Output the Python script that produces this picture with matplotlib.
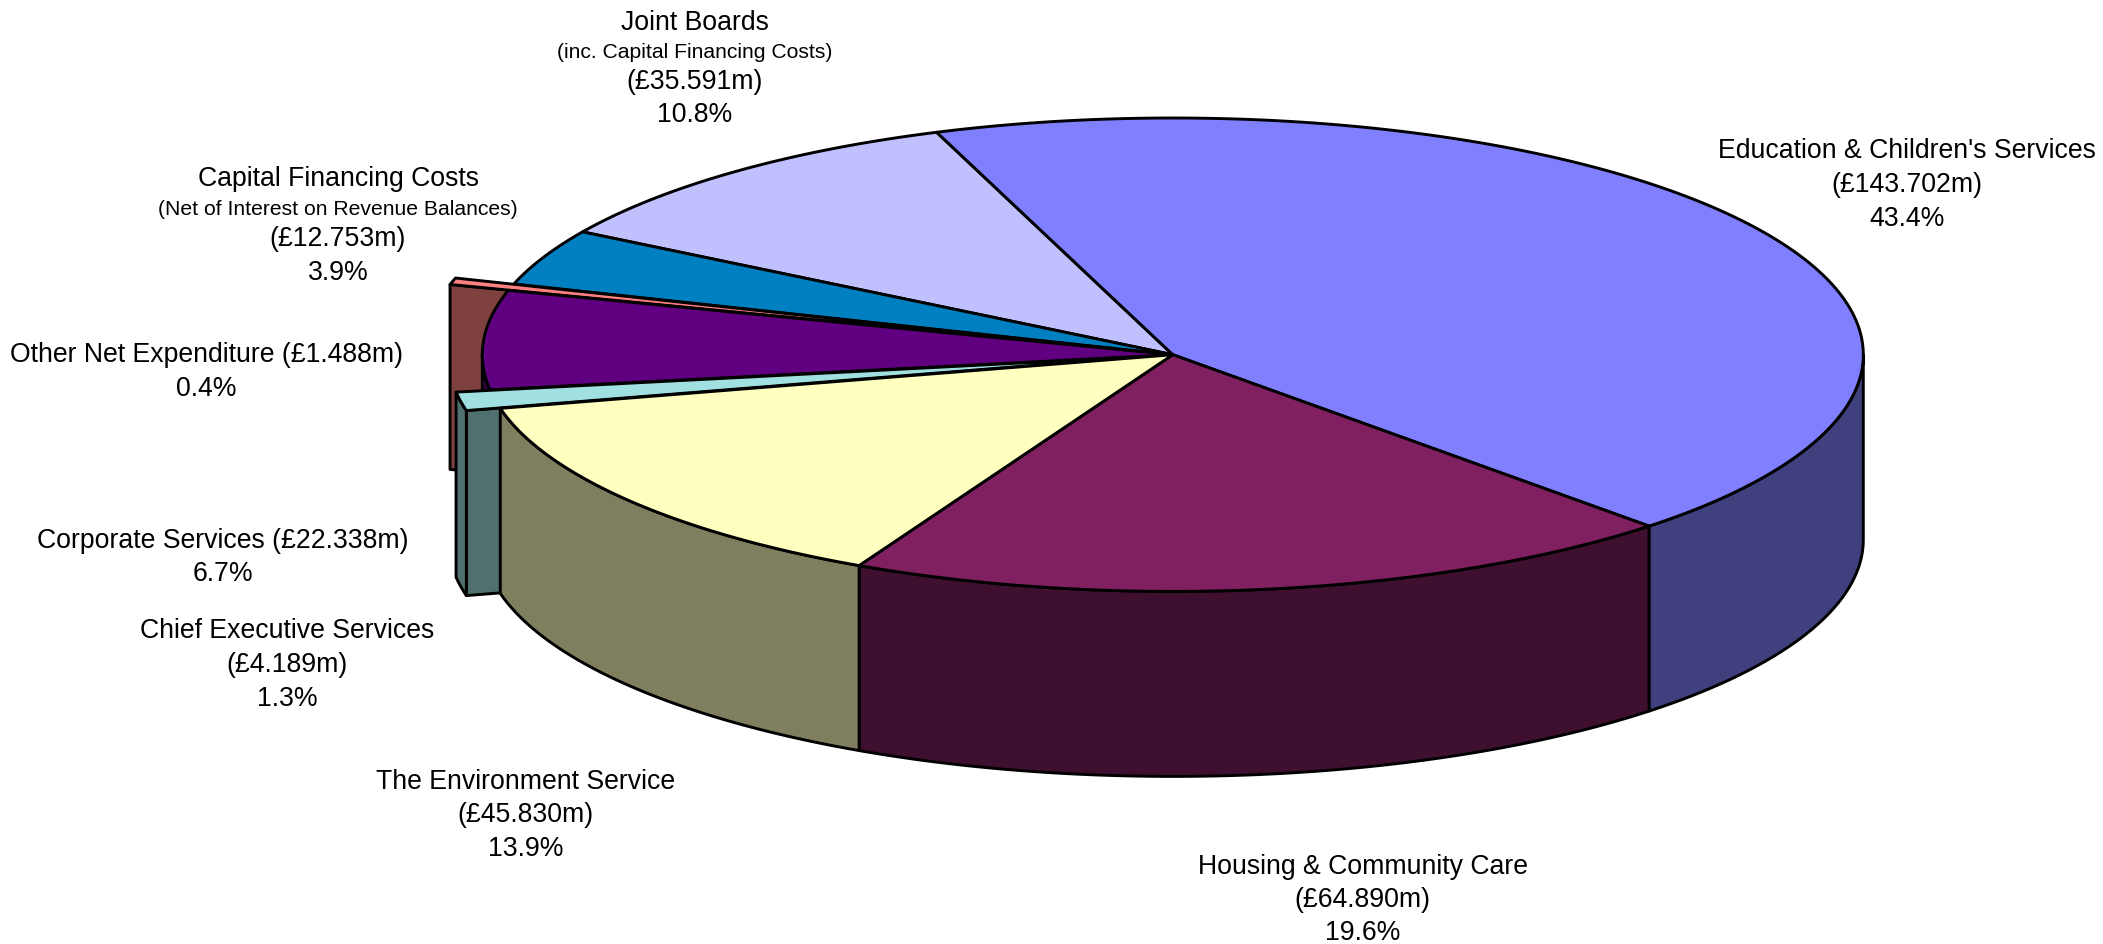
import matplotlib
matplotlib.use("Agg")
import matplotlib.pyplot as plt
import numpy as np

plt.rcParams["font.family"] = ["Liberation Sans", "DejaVu Sans"]

# Net expenditure by service, GBP millions, in drawing order round the pie
services = ["Education", "Housing", "Environment", "Chief Executive",
            "Corporate", "Other", "Capital", "Joint Boards"]
amounts = [143.702, 64.890, 45.830, 4.189, 22.338, 1.488, 12.753, 35.591]
explode = [0, 0, 0, 0.05, 0, 0.088, 0, 0]

top_colors = ["#8080FF", "#802060", "#FFFFC0", "#A0E0E0",
              "#600080", "#FF8080", "#0080C0", "#C0C0FF"]
side_colors = ["#40407F", "#3F0F2F", "#7F7F5F", "#50706F",
               "#300040", "#7F4040", "#004060", "#60607F"]

big = 19.2
small = 15.2

# text, size in points, then x and y of each line
labels = [
    ("Joint Boards", big, 694.5, 23),
    ("(inc. Capital Financing Costs)", small, 694.5, 52.5),
    ("(£35.591m)", big, 694.5, 82),
    ("10.8%", big, 694.5, 115.5),
    ("Capital Financing Costs", big, 338, 179.5),
    ("(Net of Interest on Revenue Balances)", small, 338, 209.5),
    ("(£12.753m)", big, 338, 238.5),
    ("3.9%", big, 338, 272.5),
    ("Other Net Expenditure (£1.488m)", big, 206.5, 355.5),
    ("0.4%", big, 206.5, 389),
    ("Corporate Services (£22.338m)", big, 222.5, 540.5),
    ("6.7%", big, 222.5, 574),
    ("Chief Executive Services", big, 287, 631.5),
    ("(£4.189m)", big, 287, 665.5),
    ("1.3%", big, 287, 698.5),
    ("The Environment Service", big, 525.5, 782),
    ("(£45.830m)", big, 525.5, 815.5),
    ("13.9%", big, 525.5, 849),
    ("Housing & Community Care", big, 1362.5, 866.5),
    ("(£64.890m)", big, 1362.5, 900),
    ("19.6%", big, 1362.5, 933.5),
    ("Education & Children's Services", big, 1907, 151.5),
    ("(£143.702m)", big, 1907, 185.5),
    ("43.4%", big, 1907, 218.5),
]

# pie geometry in pixels
cx, cy = 1172.8, 355.7
rx, ry = 690.5, 236.7
depth = 185
start_angle = 110
edge_width = 2.1

fig = plt.figure(figsize=(21.03, 9.45), dpi=100)
ax = fig.add_axes([0, 0, 1, 1])
ax.set_xlim(0, 2103)
ax.set_ylim(945, 0)
ax.axis("off")

sweeps = np.array(amounts) / sum(amounts) * 360
ends = start_angle - np.cumsum(sweeps)
starts = ends + sweeps


def rim(a1, a2, ox, oy):
    # points along the top rim between two angles (degrees)
    t = np.radians(np.linspace(a1, a2, max(int(abs(a2 - a1) * 3), 2)))
    return ox + rx * np.cos(t), oy - ry * np.sin(t)


def face(xs, ys, color):
    ax.fill(xs, ys, facecolor=color, edgecolor="black", linewidth=edge_width,
            joinstyle="round")


def draw_slice(i):
    a1, a2 = starts[i], ends[i]
    mid = np.radians((a1 + a2) / 2)
    ox = cx + explode[i] * rx * np.cos(mid)
    oy = cy - explode[i] * ry * np.sin(mid)

    # the pulled out slices show the cut face on their leading edge
    if explode[i] > 0:
        x0, y0 = rim(a1, a1, ox, oy)
        xs = [ox, x0[0], x0[0], ox]
        ys = [oy, y0[0], y0[0] + depth, oy + depth]
        face(xs, ys, side_colors[i])

    # outer wall, front half of the pie only
    lo, hi = min(a1, a2), max(a1, a2)
    for shift in (0, 360, -360):
        w1 = max(lo + shift, 180)
        w2 = min(hi + shift, 360)
        if w2 > w1:
            xw, yw = rim(w1, w2, ox, oy)
            xs = np.concatenate([xw, xw[::-1]])
            ys = np.concatenate([yw, yw[::-1] + depth])
            face(xs, ys, side_colors[i])

    # top
    xt, yt = rim(a1, a2, ox, oy)
    face(np.concatenate([[ox], xt]), np.concatenate([[oy], yt]), top_colors[i])


# back to front
draw_order = ["Joint Boards", "Capital", "Other", "Corporate",
              "Chief Executive", "Education", "Housing", "Environment"]
for name in draw_order:
    draw_slice(services.index(name))

for text, size, x, y in labels:
    ax.text(x, y, text, fontsize=size, ha="center", va="center", color="black")

fig.savefig("out.png", dpi=100, facecolor="white")
